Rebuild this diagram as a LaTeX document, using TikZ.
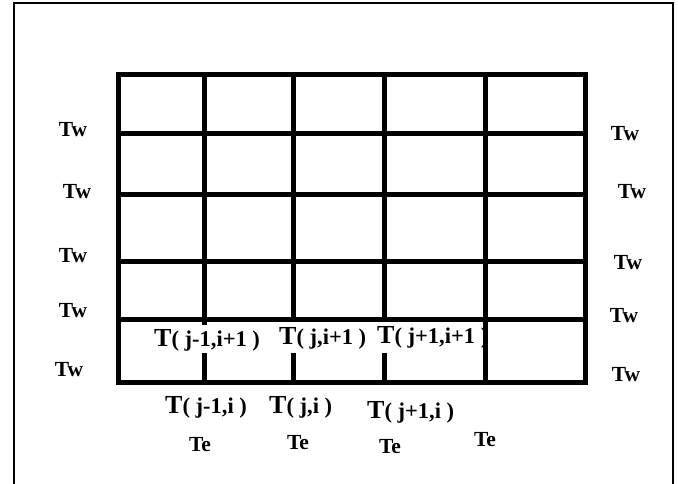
\documentclass[tikz,border=0pt]{standalone}
\usepackage{fontspec}
\setmainfont{Liberation Serif}
\usepackage{tikz}

% grid value label: big T, smaller index
\newcommand{\Tval}[1]{{\fontsize{26}{26}\selectfont T}( #1 )}

\begin{document}
\begin{tikzpicture}[
    x=1pt, y=-1pt,
    % Styles
    frame/.style={
      draw=black,
      line width=2.4pt
    },
    gridline/.style={
      draw=black,
      line width=5pt
    },
    bclabel/.style={
      font=\fontsize{21.5}{21.5}\selectfont\bfseries,
      inner sep=0pt
    },
    tvalue/.style={
      font=\fontsize{22.5}{22.5}\selectfont\bfseries,
      inner sep=0pt,
      anchor=base west
    }
  ]
    \useasboundingbox (0,0) rectangle (678,484);

    % Outer frame, open at the bottom
    \draw [frame] (14,484) -- (14,3) -- (673,3) -- (673,484);

    % West boundary labels
    \node (twl1) [bclabel] at (73,130) {Tw};
    \node (twl2) [bclabel] at (77,192) {Tw};
    \node (twl3) [bclabel] at (73,256) {Tw};
    \node (twl4) [bclabel] at (73,311) {Tw};
    \node (twl5) [bclabel] at (69,370) {Tw};

    % East boundary labels
    \node (twr1) [bclabel] at (625,134) {Tw};
    \node (twr2) [bclabel] at (632,192) {Tw};
    \node (twr3) [bclabel] at (628,263) {Tw};
    \node (twr4) [bclabel] at (624,316) {Tw};
    \node (twr5) [bclabel] at (626,375) {Tw};

    % Bottom boundary labels
    \node (te1) [bclabel] at (200,445) {Te};
    \node (te2) [bclabel] at (298,443) {Te};
    \node (te3) [bclabel] at (390,447) {Te};
    \node (te4) [bclabel] at (485,440) {Te};

    % Nodal values, row i+1 (inside the grid)
    \node (tjm1ip1) [tvalue] at (154,346) {\Tval{j-1,i+1}};
    \node (tjip1)   [tvalue] at (279,344) {\Tval{j,i+1}};
    \node (tjp1ip1) [tvalue] at (377,343) {\Tval{j+1,i+1}};

    % Nodal values, row i (below the grid)
    \node (tjm1i) [tvalue] at (165,413) {\Tval{j-1,i}};
    \node (tji)   [tvalue] at (269,413) {\Tval{j,i}};
    \node (tjp1i) [tvalue] at (367,418) {\Tval{j+1,i}};

    % Grid
    \draw [gridline] (118.5,75) rectangle (585.5,382);
    \foreach \y in {134,195,261,319}
      \draw [gridline] (118.5,\y) -- (585.5,\y);
    \foreach \x in {204,293,384.5,485}
      \draw [gridline] (\x,75) -- (\x,319);

    % Bottom row: vertical lines broken by the labels
    \draw [gridline] (204,319) -- (204,325) (204,353) -- (204,382);
    \draw [gridline] (293,353) -- (293,382);
    \draw [gridline] (384.5,353) -- (384.5,382);
    \draw [gridline] (485,319) -- (485,382);

\end{tikzpicture}
\end{document}
